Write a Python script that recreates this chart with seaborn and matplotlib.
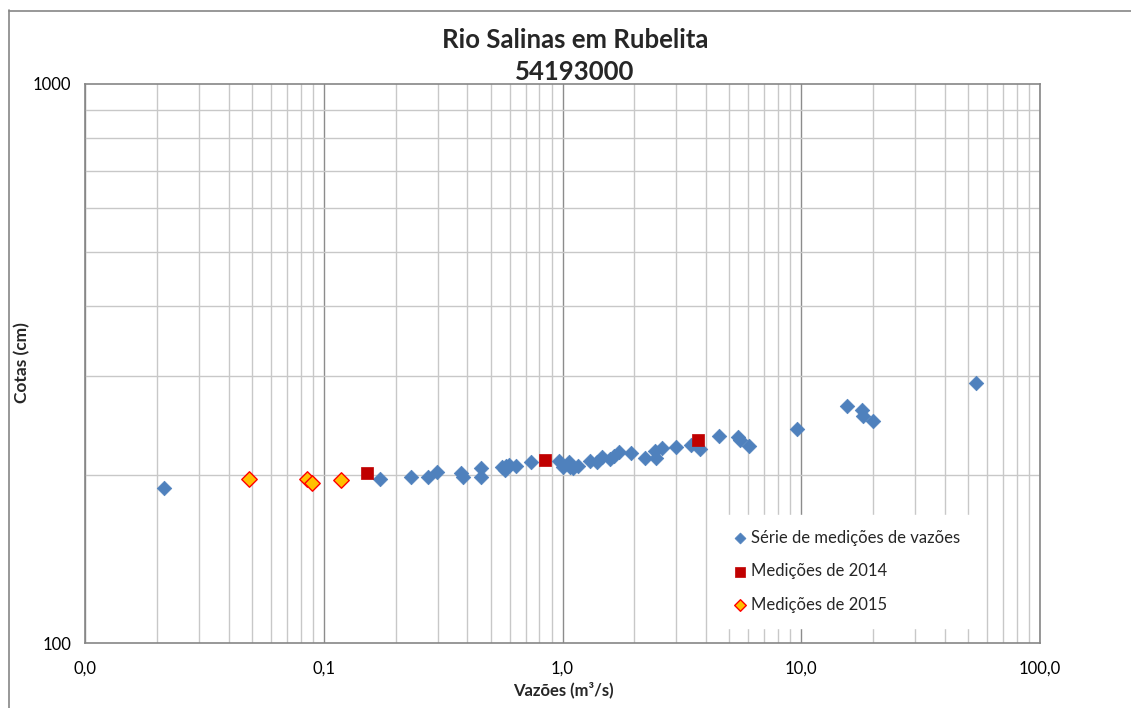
import matplotlib
matplotlib.use("Agg")
import matplotlib.pyplot as plt
from matplotlib.lines import Line2D
from matplotlib.ticker import FixedLocator, NullFormatter, LogLocator
import seaborn as sns
import pandas as pd

# Historical series of discharge measurements (m³/s) and stage (cm)
serie_vazao = [0.0214, 0.172, 0.232, 0.274, 0.299, 0.375, 0.384, 0.456, 0.456,
               0.556, 0.580, 0.574, 0.597, 0.638, 0.736, 0.970, 1.008, 1.065,
               1.075, 1.110, 1.165, 1.304, 1.391, 1.459, 1.581, 1.643, 1.725,
               1.936, 2.216, 2.440, 2.455, 2.618, 2.988, 3.453, 3.784, 4.524,
               5.408, 5.540, 6.013, 9.57, 15.6, 18.02, 18.2, 20.04, 53.8]
serie_cota = [189.4, 196.3, 198.5, 198.5, 202.5, 201.7, 198.5, 205.6, 198.5,
              206.2, 207.3, 203.9, 208.2, 207.3, 211.1, 211.7, 206.8, 211.1,
              206.2, 205.3, 207.3, 211.4, 211.1, 214.9, 213.7, 216.0, 219.9,
              219.0, 214.5, 220.5, 214.0, 223.6, 223.9, 226.5, 222.1, 234.6,
              233.9, 231.2, 224.7, 241.5, 265.8, 261.1, 254.7, 249.5, 292.2]

# 2014 campaign
vazao_2014 = [0.1514, 0.845, 3.677]
cota_2014 = [201.4, 212.6, 230.8]

# 2015 campaign
vazao_2015 = [0.0488, 0.0848, 0.0890, 0.1178]
cota_2015 = [196.3, 196.8, 193.1, 195.7]

x_ticks = [0.01, 0.1, 1, 10, 100]
x_tick_labels = ["0,0", "0,1", "1,0", "10,0", "100,0"]
y_ticks = [100, 1000]
y_tick_labels = ["100", "1000"]

sns.set_theme(style="white")
plt.rcParams["font.family"] = ["Lato", "DejaVu Sans"]

df_serie = pd.DataFrame({"vazao": serie_vazao, "cota": serie_cota})
df_2014 = pd.DataFrame({"vazao": vazao_2014, "cota": cota_2014})
df_2015 = pd.DataFrame({"vazao": vazao_2015, "cota": cota_2015})

W, H = 1131, 708
fig = plt.figure(figsize=(W / 100, H / 100), dpi=100)
ax = fig.add_axes([85 / W, 1 - 643 / H, (1040 - 85) / W, (643 - 84) / H])

ax.set_xscale("log")
ax.set_yscale("log")
ax.set_xlim(0.01, 100)
ax.set_ylim(100, 1000)

# Grid: minor lines light, major decade lines darker
ax.xaxis.set_minor_locator(LogLocator(base=10, subs=range(2, 10), numticks=20))
ax.yaxis.set_minor_locator(LogLocator(base=10, subs=range(2, 10), numticks=20))
ax.xaxis.set_minor_formatter(NullFormatter())
ax.yaxis.set_minor_formatter(NullFormatter())
ax.grid(which="minor", color="#c8c8c8", linewidth=1.0)
ax.grid(which="major", axis="x", color="#8c8c8c", linewidth=1.0)
ax.set_axisbelow(True)

sns.scatterplot(data=df_serie, x="vazao", y="cota", ax=ax, marker="D", s=55,
                color="#4F81BD", edgecolor="#4F81BD", linewidth=0.5,
                label="Série de medições de vazões", zorder=3)
sns.scatterplot(data=df_2014, x="vazao", y="cota", ax=ax, marker="s", s=75,
                color="#C00000", edgecolor="#C00000", linewidth=0.5,
                label="Medições de 2014", zorder=4)
sns.scatterplot(data=df_2015, x="vazao", y="cota", ax=ax, marker="D", s=62,
                color="#FFC000", edgecolor="#FF0000", linewidth=1.0,
                label="Medições de 2015", zorder=5)

ax.xaxis.set_major_locator(FixedLocator(x_ticks))
ax.set_xticklabels(x_tick_labels)
ax.yaxis.set_major_locator(FixedLocator(y_ticks))
ax.set_yticklabels(y_tick_labels)
ax.tick_params(axis="both", which="major", length=5, width=1, color="#868686",
               labelsize=12, labelcolor="black", direction="out")
ax.tick_params(axis="both", which="minor", length=0)
ax.tick_params(axis="x", which="major", pad=8)
ax.tick_params(axis="y", which="major", pad=5)

for side in ["left", "right", "top", "bottom"]:
    ax.spines[side].set_visible(True)
    ax.spines[side].set_color("#868686")
    ax.spines[side].set_linewidth(1.2)

ax.set_xlabel("")
ax.set_ylabel("")
fig.text(563 / W, 1 - 690 / H, "Vazões (m³/s)", ha="center", va="center",
         fontsize=12, fontweight="bold")
fig.text(22 / W, 1 - 363 / H, "Cotas (cm)", ha="center", va="center",
         rotation=90, fontsize=12.5, fontweight="bold")

fig.text(575 / W, 1 - 40 / H, "Rio Salinas em Rubelita", ha="center", va="center",
         fontsize=18.5, fontweight="bold")
fig.text(575 / W, 1 - 72 / H, "54193000", ha="center", va="center",
         fontsize=18.5, fontweight="bold")

leg = ax.legend(loc="lower left", bbox_to_anchor=((707 - 85) / 955, (643 - 636) / 559),
                frameon=True, facecolor="white", edgecolor="white", framealpha=1,
                fontsize=12, labelspacing=1.05, handletextpad=0.05,
                markerscale=0.75, borderpad=0.9, handlelength=1.2)
leg.set_zorder(6)

# Outer chart-area frame (left and top edges)
fig.add_artist(Line2D([8.5 / W, 8.5 / W], [0, 1 - 10 / H], transform=fig.transFigure,
                      color="#868686", linewidth=1.2))
fig.add_artist(Line2D([8.5 / W, 1], [1 - 10.5 / H, 1 - 10.5 / H], transform=fig.transFigure,
                      color="#868686", linewidth=1.2))

fig.savefig("out.png", dpi=100, facecolor="white")
